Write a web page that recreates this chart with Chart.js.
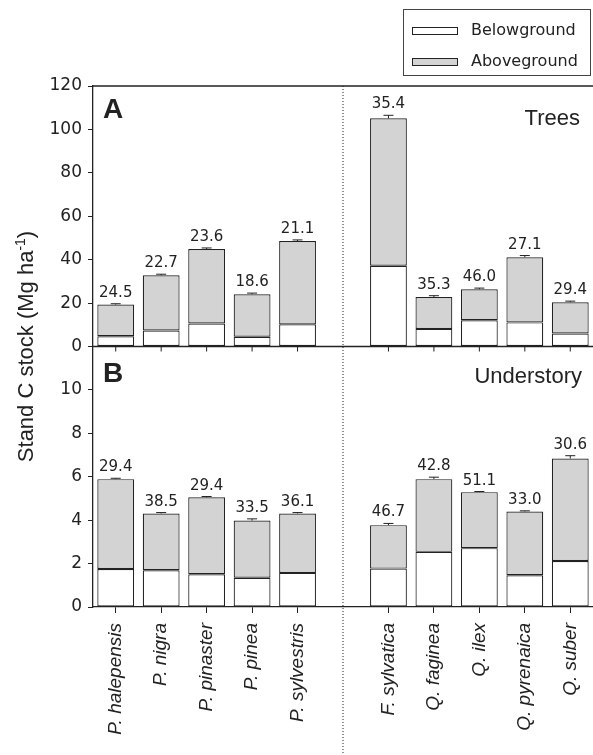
<!DOCTYPE html>
<html>
<head>
<meta charset="utf-8">
<script src="https://cdn.jsdelivr.net/npm/chart.js@4"></script>
<style>
    html, body { margin: 0; padding: 0; background: #fff; }
    canvas { display: block; }
</style>
</head>
<body>
<canvas id="stock-chart" width="593" height="755"></canvas>
<script>
// empty slot in the middle splits conifers from broadleaves
const species = ['P. halepensis', 'P. nigra', 'P. pinaster', 'P. pinea', 'P. sylvestris', '',
    'F. sylvatica', 'Q. faginea', 'Q. ilex', 'Q. pyrenaica', 'Q. suber'];

// panel A - trees
const treesBelow = [4.7, 7.4, 10.6, 4.5, 10.2, null, 37.2, 8.1, 12.1, 11.1, 6.0];
const treesAbove = [14.6, 25.4, 34.3, 19.6, 38.4, null, 67.9, 14.7, 14.3, 30.0, 14.4];
const treesError = [0.4, 0.5, 0.5, 0.5, 0.5, null, 1.4, 0.6, 0.5, 0.8, 0.5];
const treesPct = ['24.5', '22.7', '23.6', '18.6', '21.1', null, '35.4', '35.3', '46.0', '27.1', '29.4'];

// panel B - understory
const underBelow = [1.75, 1.69, 1.51, 1.35, 1.57, null, 1.77, 2.54, 2.71, 1.46, 2.12];
const underAbove = [4.14, 2.62, 3.54, 2.63, 2.74, null, 2.00, 3.35, 2.58, 2.94, 4.72];
const underError = [0.04, 0.04, 0.04, 0.08, 0.04, null, 0.08, 0.09, 0.03, 0.03, 0.13];
const underPct = ['29.4', '38.5', '29.4', '33.5', '36.1', null, '46.7', '42.8', '51.1', '33.0', '30.6'];

const treesTicks = { min: 0, max: 120, step: 20 };
const underTicks = { min: 0, max: 12, step: 2 };

const INK = '#222';
const GREY = '#d3d3d3';
const NUM = "'DejaVu Sans', sans-serif";
const TXT = "'Liberation Sans', Arial, sans-serif";

function line(ctx, x1, y1, x2, y2) {
    ctx.beginPath();
    ctx.moveTo(x1, y1);
    ctx.lineTo(x2, y2);
    ctx.stroke();
}

function drawPanelMarks(ctx, xScale, yScale, below, above, err, pct) {
    ctx.font = '15px ' + NUM;
    ctx.textAlign = 'center';
    ctx.textBaseline = 'alphabetic';
    below.forEach((b, i) => {
        if (b == null) return;
        const px = xScale.getPixelForValue(i);
        const total = b + above[i];
        const yTop = yScale.getPixelForValue(total);
        const yCap = yScale.getPixelForValue(total + err[i]);
        ctx.lineWidth = 1;
        line(ctx, px, yTop, px, yCap);
        line(ctx, px - 5, yCap, px + 5, yCap);
        ctx.fillText(pct[i], px, yCap - 7);
    });
}

const decorPlugin = {
    id: 'panelDecor',
    afterDraw(chart) {
        const ctx = chart.ctx;
        const { left, right, top } = chart.chartArea;
        const x = chart.scales.x;
        const yA = chart.scales.yA;
        const yB = chart.scales.yB;

        ctx.save();
        ctx.strokeStyle = INK;
        ctx.fillStyle = INK;

        // frame top + panel A base
        ctx.lineWidth = 1.6;
        line(ctx, left, top, right, top);
        ctx.lineWidth = 1.3;
        line(ctx, left, yA.bottom, right, yA.bottom);
        ctx.lineWidth = 1;
        species.forEach((s, i) => {
            if (!s) return;
            const px = x.getPixelForValue(i);
            line(ctx, px, yA.bottom, px, yA.bottom + 5);
        });

        // dotted separator
        const sep = x.getPixelForValue(species.indexOf(''));
        ctx.setLineDash([1, 2]);
        line(ctx, sep, top, sep, chart.height);
        ctx.setLineDash([]);

        drawPanelMarks(ctx, x, yA, treesBelow, treesAbove, treesError, treesPct);
        drawPanelMarks(ctx, x, yB, underBelow, underAbove, underError, underPct);

        // panel letters and names
        ctx.textAlign = 'left';
        ctx.font = 'bold 28px ' + TXT;
        ctx.fillText('A', left + 10, yA.top + 32);
        ctx.fillText('B', left + 10, yB.top + 35);
        ctx.textAlign = 'right';
        ctx.font = '22px ' + TXT;
        ctx.fillText('Trees', right - 13, yA.top + 39);
        ctx.fillText('Understory', right - 11, yB.top + 36);

        // y title with superscript
        const main = 'Stand C stock (Mg ha';
        const sup = '-1';
        const tail = ')';
        ctx.font = '22px ' + TXT;
        const wMain = ctx.measureText(main).width;
        const wTail = ctx.measureText(tail).width;
        ctx.font = '14px ' + TXT;
        const wSup = ctx.measureText(sup).width;
        const total = wMain + wSup + wTail;
        ctx.save();
        ctx.translate(33, (yA.top + yB.bottom) / 2);
        ctx.rotate(-Math.PI / 2);
        ctx.textAlign = 'left';
        ctx.font = '22px ' + TXT;
        ctx.fillText(main, -total / 2, 0);
        ctx.fillText(tail, -total / 2 + wMain + wSup, 0);
        ctx.font = '14px ' + TXT;
        ctx.fillText(sup, -total / 2 + wMain, -8);
        ctx.restore();

        // legend
        const ds = chart.data.datasets;
        ctx.lineWidth = 1;
        ctx.strokeStyle = '#444';
        ctx.strokeRect(403.5, 9.5, 187, 66);
        ctx.font = '16px ' + NUM;
        ctx.textAlign = 'left';
        ctx.textBaseline = 'middle';
        [0, 1].forEach((k, j) => {
            const yy = 31 + j * 31;
            ctx.fillStyle = ds[k].backgroundColor;
            ctx.fillRect(412, yy - 4, 46, 8);
            ctx.strokeStyle = INK;
            ctx.strokeRect(412.5, yy - 3.5, 45, 7);
            ctx.fillStyle = INK;
            ctx.fillText(ds[k].label, 471, yy);
        });
        ctx.restore();
    }
};

function barSet(label, data, color, axis) {
    return {
        label: label,
        data: data,
        yAxisID: axis,
        backgroundColor: color,
        borderColor: INK,
        borderWidth: 1.2,
        borderSkipped: false,
        barPercentage: 0.81,
        categoryPercentage: 1
    };
}

function yAxis(range) {
    return {
        type: 'linear',
        position: 'left',
        stack: 'panels',
        stackWeight: 1,
        stacked: true,
        min: range.min,
        max: range.max,
        ticks: {
            stepSize: range.step,
            padding: 6,
            color: INK,
            font: { family: NUM, size: 17 },
            callback: v => (v === range.max && range.max === 12) ? '' : v
        },
        grid: { drawOnChartArea: false, tickLength: 5, color: INK, lineWidth: 1 },
        border: { color: INK, width: 1.3 },
        afterFit: s => { s.width = 93; }
    };
}

new Chart(document.getElementById('stock-chart'), {
    type: 'bar',
    data: {
        labels: species,
        datasets: [
            barSet('Belowground', treesBelow, '#ffffff', 'yA'),
            barSet('Aboveground', treesAbove, GREY, 'yA'),
            barSet('Belowground', underBelow, '#ffffff', 'yB'),
            barSet('Aboveground', underAbove, GREY, 'yB')
        ]
    },
    options: {
        responsive: false,
        animation: false,
        devicePixelRatio: 1,
        layout: { padding: { top: 86, left: 0, right: 0, bottom: 0 } },
        plugins: {
            legend: { display: false },
            tooltip: { enabled: false }
        },
        scales: {
            x: {
                stacked: true,
                offset: true,
                grid: {
                    offset: false,
                    drawOnChartArea: false,
                    tickLength: 6,
                    lineWidth: 1,
                    color: c => species[c.index] ? INK : 'rgba(0,0,0,0)'
                },
                border: { color: INK, width: 1.3 },
                ticks: {
                    autoSkip: false,
                    minRotation: 90,
                    maxRotation: 90,
                    padding: 10,
                    color: INK,
                    font: { family: TXT, size: 19, style: 'italic' }
                },
                afterFit: s => {
                    s.height = 148;
                    s.paddingLeft = 0;
                    s.paddingRight = 0;
                }
            },
            yB: yAxis(underTicks),
            yA: yAxis(treesTicks)
        }
    },
    plugins: [decorPlugin]
});
</script>
</body>
</html>
